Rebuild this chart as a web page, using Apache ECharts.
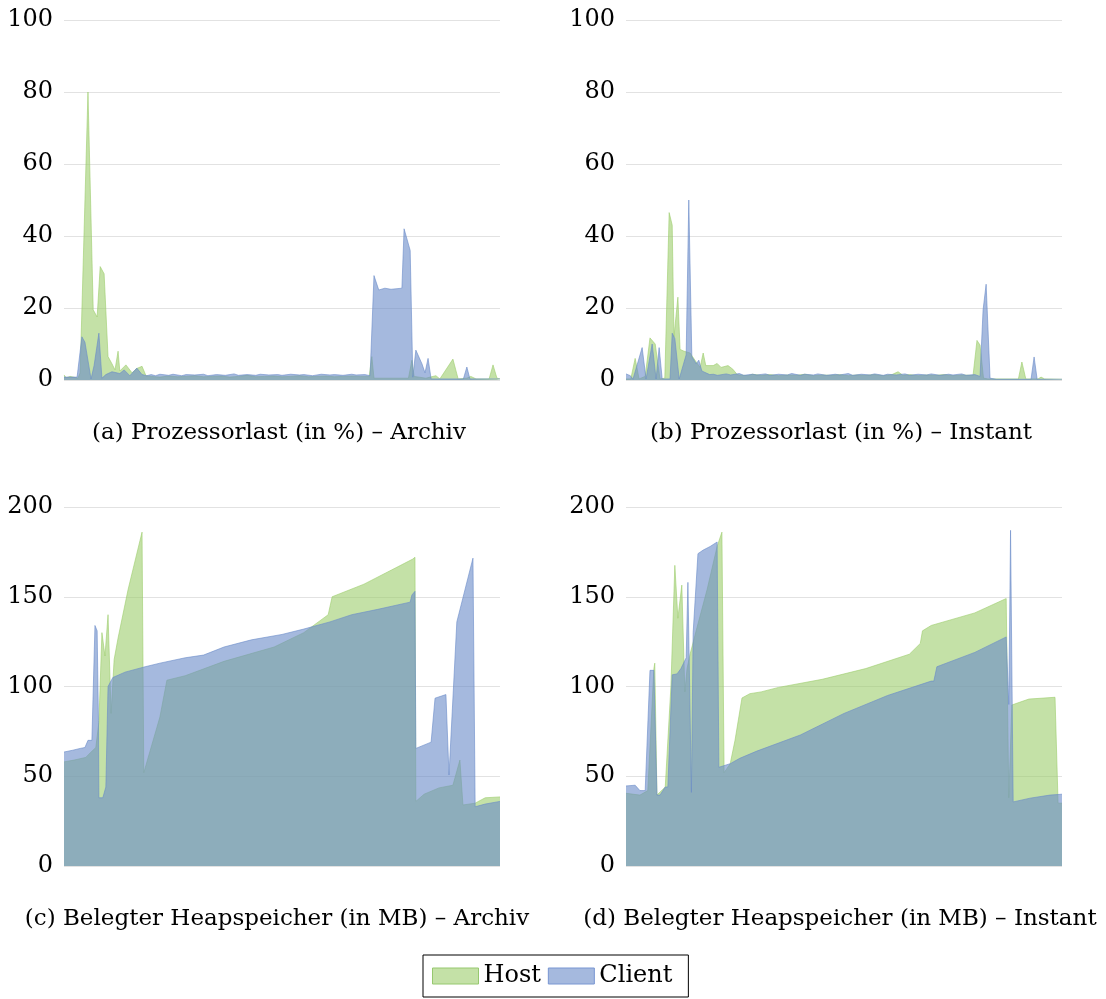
<!DOCTYPE html>
<html>
<head>
<meta charset="utf-8">
<script src="https://cdn.jsdelivr.net/npm/echarts@6/dist/echarts.min.js"></script>
<style>
html,body{margin:0;padding:0;background:#fff;}
#chart{width:1106px;height:999px;}
</style>
</head>
<body>
<div id="chart"></div>
<script>
// time axis: 0..100 (% of run time)
const cpuArchivHost = [[0,1.4],[0.5,0.6],[1.4,1.0],[3.2,0.5],[3.7,2],[5.5,80],[6.7,19.5],[7.6,17.5],[8.3,31.5],[9.2,29.5],[10.1,6.5],[11.0,4.5],[11.7,2.8],[12.4,8],[12.8,2.5],[14.2,4.2],[15.6,2],[16.7,3.2],[17.9,3.8],[18.8,1.2],
  [20,1.0],[22,0.8],[24,1.1],[26,0.9],[28,1.0],[30,1.2],[32,0.9],[34,1.0],[36,1.1],[38,0.8],[40,1.0],[42,1.3],[44,0.9],[46,1.0],[48,1.1],[50,0.9],[52,1.0],[54,1.2],[56,0.9],[58,1.0],[60,1.1],[62,0.9],[64,1.0],[66,1.1],[68,1.0],
  [70.0,1],[70.6,6.5],[71.1,0.5],[79.0,0.5],[79.8,5.5],[80.3,1],[83.0,0.5],[85.3,1.2],[86.2,0.3],[89.2,5.8],[90.4,0.3],[92.4,0.5],[93.3,1],[94.5,0.3],[97.5,0.3],[98.4,4.2],[99.3,0.5],[100,0.3]];
const cpuArchivClient = [[0,0.8],[3.0,0.8],[4.1,12],[4.8,10.5],[6.2,0.3],[6.9,4],[7.3,4],[8.0,13],[8.7,0.5],[9.6,1.5],[11.0,2.3],[12.8,1.8],[13.8,2.8],[15.1,1.2],[16.7,3.3],[17.9,1.5],[19,1.2],
  [20,1.5],[21,1.2],[22,1.6],[24,1.3],[25,1.6],[27,1.2],[28,1.5],[30,1.4],[32,1.6],[33,1.2],[35,1.5],[37,1.3],[39,1.7],[40,1.3],[42,1.5],[44,1.3],[45,1.6],[47,1.4],[49,1.5],[50,1.3],[52,1.6],[54,1.4],[55,1.5],[57,1.2],[59,1.6],[61,1.4],[62,1.5],[64,1.3],[66,1.6],[67,1.4],[69,1.5],
  [70.2,1.2],[71.1,29],[72.2,25],[73.6,25.5],[75,25.2],[77.5,25.5],[78.0,42],[79.4,36],[80.0,0.8],[80.7,8.3],[82.1,4.5],[82.8,2],[83.5,6],[84.2,0.3],[91.6,0.3],[92.4,3.6],[93.1,0.3],[100,0.3]];

const cpuInstantHost = [[0,0.3],[1.1,0.3],[2.1,6],[3.0,0.3],[4.4,1],[5.5,11.7],[6.7,10],[7.8,0.3],[8.9,0.5],[9.9,46.5],[10.6,43],[11.0,12],[11.9,23],[12.4,8.5],[13.3,8],[14.7,7.5],[16.1,5],[17.0,3.5],[17.7,7.5],[18.3,4],[20.0,4],[20.9,4.6],[21.8,3.5],[23.4,4],[24.5,3],[25.5,1.5],
  [26,1.4],[28,1.2],[29,1.6],[31,1.3],[33,1.5],[35,1.2],[37,1.4],[39,1.3],[41,1.6],[43,1.2],[45,1.4],[47,1.3],[49,1.5],[51,1.2],[53,1.4],[55,1.3],[57,1.5],[59,1.2],[61,1.5],[62.4,2.3],[63.5,1.3],[65,1.5],[67,1.2],[69,1.4],[71,1.3],[73,1.5],[75,1.2],[77,1.4],[79,1.3],
  [79.6,1.3],[80.5,11],[81.2,9.7],[82.0,0.5],[83,0.3],[90.0,0.3],[90.8,5],[91.7,0.3],[94.5,0.3],[95.2,0.8],[96,0.3],[100,0.2]];
const cpuInstantClient = [[0,1.7],[1.0,1.2],[1.6,0.2],[3.7,9],[4.6,0.3],[6.0,10],[6.9,0.3],[7.6,9],[8.3,0.3],[10.1,0.3],[10.6,13],[11.2,11.5],[12.2,0.3],[13.8,7],[14.4,50],[15.1,6.5],[16.1,4.5],[16.7,5.5],[17.4,2.5],[18.3,2],[19.2,1.5],
  [20,1.6],[21,1.3],[23,1.7],[24,1.4],[26,1.8],[27,1.3],[29,1.6],[30,1.4],[32,1.7],[33,1.3],[35,1.6],[37,1.4],[38,1.8],[40,1.3],[41,1.6],[43,1.4],[44,1.7],[46,1.3],[48,1.6],[49,1.4],[51,1.8],[52,1.3],[54,1.6],[56,1.4],[57,1.7],[59,1.3],[60,1.6],[62,1.4],[64,1.7],[65,1.3],[67,1.6],[69,1.4],[70,1.7],[72,1.3],[74,1.6],[75,1.4],[77,1.7],[78,1.3],[80,1.5],
  [81.2,1.0],[81.9,19.5],[82.6,26.6],[83.5,0.5],[85,0.2],[92.9,0.2],[93.6,6.4],[94.3,0.2],[100,0.2]];

const heapArchivHost = [[0,58],[2.3,59],[5.0,60.5],[6.0,63],[7.3,66],[8.0,80],[8.7,130],[9.4,117],[10.1,140],[10.8,85],[11.5,115],[12.4,127],[14.7,154],[17.9,186],[18.3,52],[22.0,83],[23.6,103.5],[27.8,106],[36.7,114],[48.2,122],[55,130],[60.6,140],[61.0,141],[61.5,150],[68.8,157],[80.0,171],[80.5,172],[80.7,36],[82.6,40],[86,43.5],[89.2,45],[90.8,59],[91.5,34],[94.3,35],[96.6,38],[100,38.5]];
const heapArchivClient = [[0,63.5],[2.0,64.5],[3.7,65.5],[4.8,66],[5.5,70],[6.4,70],[7.1,134],[7.6,131],[7.9,81],[8.0,38],[8.9,38],[9.6,44],[10.1,100],[11.2,105],[14.0,108],[18.6,111],[22,113],[27.8,116],[32,117.5],[36.7,122],[43,126],[50,129],[55,132],[61,136],[66,140],[72,143],[79.4,147],[79.8,151],[80.5,153],[80.7,65.5],[84.2,69],[85.1,93.5],[87.6,95.5],[88.3,50.7],[90.1,136],[93.8,171.5],[94.3,33],[96.6,34.5],[100,36]];

const heapInstantHost = [[0,40.5],[3.2,39.5],[5.0,42],[6.4,110],[6.6,113],[7.1,39.5],[9.0,44],[10.3,100],[11.2,167.5],[11.9,138],[12.8,156.5],[13.5,97],[14.0,110],[14.7,118],[16.3,133],[18.6,154],[20.9,178],[22.0,186],[22.5,52],[23.9,57],[25.0,70],[26.6,93.6],[28.4,96],[31,97],[35,99.5],[45,104],[55,110],[65,118],[67.5,124],[68,131],[70,134],[80,141],[87.2,149],[87.8,38],[88.5,89.7],[92.4,93],[98.4,94],[99.1,35],[100,35]];
const heapInstantClient = [[0,44.6],[2.1,45],[3.2,42],[4.4,42],[5.5,109],[6.4,109],[7.1,39.5],[7.8,39.5],[9.0,44],[9.6,44],[10.6,106.5],[11.7,107],[12.6,110],[13.8,116],[14.2,158],[14.6,158],[15.0,41],[15.4,130],[16.5,174],[17.7,176],[19.3,178],[20.9,180.5],[21.3,55],[23.9,57],[26.1,60],[30,64],[40,73],[50,85],[60,95],[70,103],[70.6,103],[71.3,111],[80,119],[87.2,127.6],[87.8,90],[88.2,187],[88.8,35.7],[92.7,37.8],[97.2,39.5],[100,40]];

const captions = [
  '(a) Prozessorlast (in %) \u2013 Archiv',
  '(b) Prozessorlast (in %) \u2013 Instant',
  '(c) Belegter Heapspeicher (in MB) \u2013 Archiv',
  '(d) Belegter Heapspeicher (in MB) \u2013 Instant'
];
const seriesNames = ['Host', 'Client'];

const hostColor = 'rgb(157,205,108)';
const clientColor = 'rgb(105,138,200)';
const serif = 'DejaVu Serif';

const grids = [
  {left: 64, top: 20, width: 436, height: 360},
  {left: 626, top: 20, width: 436, height: 360},
  {left: 64, top: 507, width: 436, height: 359},
  {left: 626, top: 507, width: 436, height: 359}
];
const yMax = [100, 100, 200, 200];
const yInt = [20, 20, 50, 50];
const dataSets = [
  [cpuArchivHost, cpuArchivClient],
  [cpuInstantHost, cpuInstantClient],
  [heapArchivHost, heapArchivClient],
  [heapInstantHost, heapInstantClient]
];

const xAxes = grids.map((g, i) => ({
  gridIndex: i, type: 'value', min: 0, max: 100, show: false
}));
const yAxes = grids.map((g, i) => ({
  gridIndex: i, type: 'value', min: 0, max: yMax[i], interval: yInt[i],
  axisLine: {show: false}, axisTick: {show: false},
  splitLine: {show: true, lineStyle: {color: '#e2e2e2', width: 1}},
  axisLabel: {color: '#000', fontFamily: serif, fontSize: 24, margin: 11}
}));

const series = [];
dataSets.forEach((pair, i) => {
  pair.forEach((data, k) => {
    const c = k === 0 ? hostColor : clientColor;
    series.push({
      name: seriesNames[k], type: 'line', xAxisIndex: i, yAxisIndex: i,
      data: data, showSymbol: false, symbol: 'none', smooth: false,
      color: c,
      lineStyle: {color: c, width: 1, opacity: 0.6},
      areaStyle: {color: c, opacity: 0.6},
      z: 2 + k, animation: false
    });
  });
});

const capPos = [[279, 433], [841, 433], [277, 919], [840, 919]];
const graphic = captions.map((t, i) => ({
  type: 'text', x: capPos[i][0], y: capPos[i][1],
  style: {text: t, fill: '#000', font: '23px "' + serif + '"', textAlign: 'center', textVerticalAlign: 'middle'}
}));

const option = {
  backgroundColor: '#fff',
  animation: false,
  grid: grids,
  xAxis: xAxes,
  yAxis: yAxes,
  series: series,
  graphic: graphic,
  legend: {
    left: 423, top: 955,
    padding: [8, 16, 8, 9],
    borderColor: '#000', borderWidth: 1,
    itemWidth: 46, itemHeight: 16, itemGap: 7,
    selectedMode: false,
    textStyle: {fontFamily: serif, fontSize: 24, color: '#000', lineHeight: 26},
    data: [
      {name: 'Host', icon: 'rect', itemStyle: {color: 'rgb(196,225,167)', borderColor: 'rgb(150,200,110)', borderWidth: 1}},
      {name: 'Client', icon: 'rect', itemStyle: {color: 'rgb(165,185,222)', borderColor: 'rgb(120,150,210)', borderWidth: 1}}
    ]
  }
};

const chart = echarts.init(document.getElementById('chart'), null, {renderer: 'canvas'});
chart.setOption(option);
</script>
</body>
</html>
